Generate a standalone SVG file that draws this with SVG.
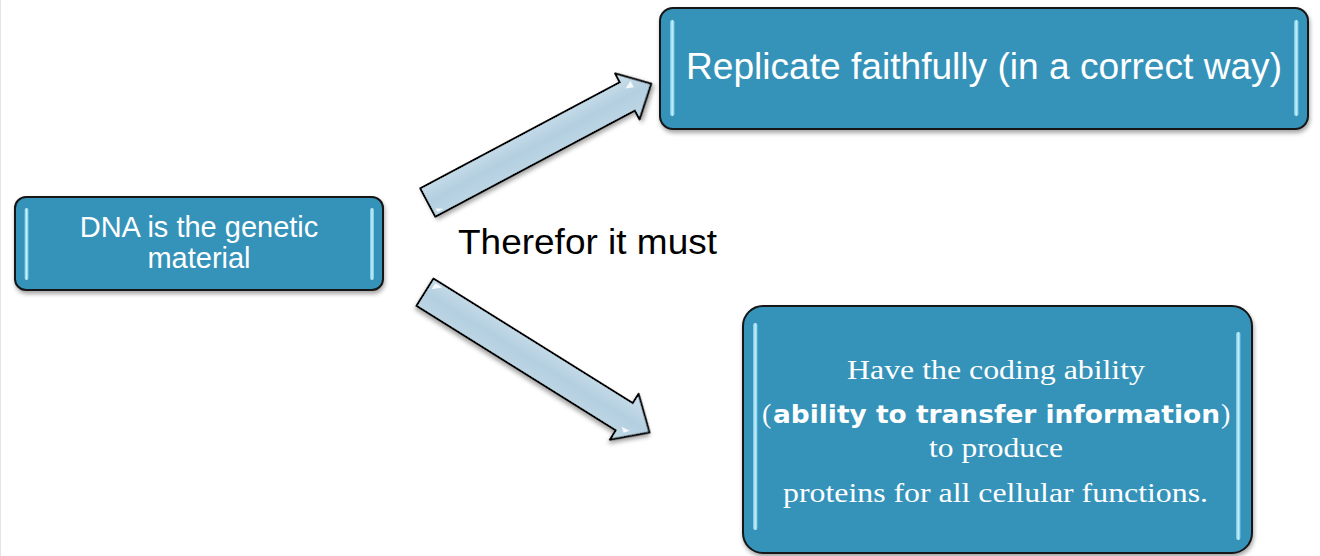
<svg xmlns="http://www.w3.org/2000/svg" width="1320" height="556" viewBox="0 0 1320 556">
  <style>
    .box { fill: #3593ba; stroke: #151515; stroke-width: 2; filter: url(#shadow); }
    .bar { fill: url(#barGrad); opacity: 0.9; }
    .arrow { fill: url(#arrowGrad); stroke: #000; stroke-width: 2; stroke-linejoin: round; filter: url(#shadow); }
    .hl { fill: #ffffff; opacity: 0.85; }
    .sans { font-family: "Liberation Sans", Arial, sans-serif; }
    .serif { font-family: "Liberation Serif", "Times New Roman", serif; }
    .white { fill: #ffffff; }
  </style>
  <defs>
    <filter id="shadow" x="-10%" y="-10%" width="120%" height="130%">
      <feDropShadow dx="1" dy="3" stdDeviation="2.2" flood-color="#000" flood-opacity="0.35"/>
    </filter>
    <linearGradient id="barGrad" x1="0" y1="0" x2="1" y2="0">
      <stop offset="0" stop-color="#6fcbe9"/>
      <stop offset="0.5" stop-color="#dff8ff"/>
      <stop offset="1" stop-color="#6fcbe9"/>
    </linearGradient>
    <linearGradient id="arrowGrad" x1="0" y1="0" x2="0" y2="1">
      <stop offset="0" stop-color="#cfe1ec"/>
      <stop offset="0.5" stop-color="#b3cfe0"/>
      <stop offset="1" stop-color="#c2d9e7"/>
    </linearGradient>
  </defs>

  <rect x="0" y="0" width="1320" height="556" fill="#ffffff"/>
  <line x1="0.5" y1="0" x2="0.5" y2="556" stroke="#e4e4e4" stroke-width="1"/>

  <g id="connectors">
    <g id="arrow-up" transform="translate(427.8,202.5) rotate(-28)">
      <polygon class="arrow" points="0,-16 226,-16 226,-26 253,0 226,26 226,16 0,16"/>
      <polygon class="hl" points="4,9 11,13 4,13"/>
      <polygon class="hl" points="228,-8 236,-12 236,-5"/>
    </g>
    <g id="arrow-down" transform="translate(425,292.2) rotate(32)">
      <polygon class="arrow" points="0,-16 235,-16 235,-27 264.7,0 235,27 235,16 0,16"/>
      <polygon class="hl" points="4,-13 12,-13 4,-6"/>
      <polygon class="hl" points="238,10 247,9 243,14"/>
    </g>
    <text id="connector-label" class="sans" x="458" y="254" font-size="35" textLength="259" lengthAdjust="spacingAndGlyphs" fill="#000">Therefor it must</text>
  </g>

  <g id="node-dna">
    <rect class="box" x="15" y="197" width="368" height="93" rx="11"/>
    <rect class="bar" x="24.5" y="208" width="4" height="72" rx="2"/>
    <rect class="bar" x="370" y="208" width="4" height="72" rx="2"/>
    <text class="sans white" x="199" y="237" font-size="29" text-anchor="middle">DNA is the genetic</text>
    <text class="sans white" x="199" y="268" font-size="29" text-anchor="middle">material</text>
  </g>

  <g id="node-replicate">
    <rect class="box" x="660" y="8" width="648" height="121" rx="13"/>
    <rect class="bar" x="670" y="20" width="4.5" height="96" rx="2.2"/>
    <rect class="bar" x="1294" y="20" width="4.5" height="96" rx="2.2"/>
    <text class="sans white" x="686" y="79" font-size="36" textLength="596" lengthAdjust="spacingAndGlyphs">Replicate faithfully (in a correct way)</text>
  </g>

  <g id="node-coding">
    <rect class="box" x="743" y="306" width="509" height="247" rx="20"/>
    <rect class="bar" x="753" y="323" width="4.5" height="207" rx="2.2"/>
    <rect class="bar" x="1236" y="332" width="4.5" height="208" rx="2.2"/>
    <text class="serif white" x="847" y="379" font-size="28" textLength="298" lengthAdjust="spacingAndGlyphs">Have the coding ability</text>
    <text class="white" y="423"><tspan class="serif" x="762" font-size="28">(</tspan><tspan x="773" font-family="'DejaVu Sans', Verdana, sans-serif" font-weight="bold" font-size="24" textLength="447" lengthAdjust="spacingAndGlyphs">ability to transfer information</tspan><tspan class="serif" x="1221" font-size="28">)</tspan></text>
    <text class="serif white" x="929" y="457" font-size="28" textLength="134" lengthAdjust="spacingAndGlyphs">to produce</text>
    <text class="serif white" x="783" y="502" font-size="28" textLength="425" lengthAdjust="spacingAndGlyphs">proteins for all cellular functions.</text>
  </g>
</svg>
